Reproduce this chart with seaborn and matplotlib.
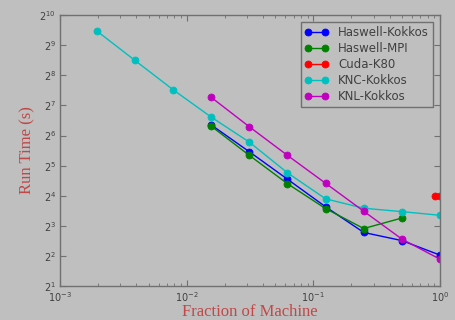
import matplotlib
matplotlib.use("Agg")
import matplotlib.pyplot as plt
import seaborn as sns
import pandas as pd
from matplotlib.ticker import LogFormatterSciNotation, LogLocator

sns.set_style("ticks")

frac_knc = [1/512, 1/256, 1/128, 1/64, 1/32, 1/16, 1/8, 1/4, 1/2, 1.0]
time_knc = [709, 360, 183.5, 97.7, 54.9, 27.1, 14.9, 12.0, 11.1, 10.2]

frac_hk = [1/64, 1/32, 1/16, 1/8, 1/4, 1/2, 1.0]
time_hk = [81.6, 44.0, 23.4, 12.4, 6.87, 5.70, 4.08]

frac_mpi = [1/64, 1/32, 1/16, 1/8, 1/4, 1/2]
time_mpi = [79.3, 40.5, 21.1, 11.9, 7.52, 9.58]

frac_cuda = [0.91, 1.0]
time_cuda = [15.9, 15.9]

frac_knl = [1/64, 1/32, 1/16, 1/8, 1/4, 1/2, 1.0]
time_knl = [154, 78.2, 40.5, 21.3, 11.2, 5.90, 3.71]

series = [
    ("Haswell-Kokkos", frac_hk, time_hk, (0, 0, 1)),
    ("Haswell-MPI", frac_mpi, time_mpi, (0, 0.5, 0)),
    ("Cuda-K80", frac_cuda, time_cuda, (1, 0, 0)),
    ("KNC-Kokkos", frac_knc, time_knc, (0, 0.75, 0.75)),
    ("KNL-Kokkos", frac_knl, time_knl, (0.75, 0, 0.75)),
]

bg = "#bfbfbf"
fig = plt.figure(figsize=(4.55, 3.2), dpi=100, facecolor=bg)
ax = fig.add_axes([0.132, 0.106, 0.835, 0.847], facecolor=bg)

names = []
for name, xs, ys, col in series:
    df = pd.DataFrame({"frac": xs, "time": ys})
    sns.lineplot(data=df, x="frac", y="time", ax=ax, color=col,
                 marker="o", markersize=5, linewidth=1.0,
                 markeredgecolor=col, markeredgewidth=0.6, estimator=None, sort=False)
    names.append(name)

ax.set_xscale("log")
ax.set_yscale("log", base=2)
ax.set_xlim(1e-3, 1)
ax.set_ylim(2, 1024)
ax.yaxis.set_major_locator(LogLocator(base=2, numticks=20))
ax.yaxis.set_major_formatter(LogFormatterSciNotation(base=2))
ax.yaxis.set_minor_locator(plt.NullLocator())

for s in ax.spines.values():
    s.set_color("#707070")
    s.set_linewidth(1.0)
ax.tick_params(which="both", direction="in", top=True, right=True, colors="#707070",
               labelcolor="#404040", labelsize=7, pad=3)
ax.tick_params(which="major", length=4)
ax.tick_params(which="minor", length=2)

lab = dict(family="Liberation Serif", color="#c04848", fontsize=12)
ax.set_xlabel("Fraction of Machine", labelpad=0, **lab)
ax.set_ylabel("Run Time (s)", labelpad=3, **lab)

leg = ax.legend(ax.lines, names, loc="upper right", numpoints=2, fontsize=8.5,
                frameon=True, fancybox=False, handlelength=2.0, borderaxespad=0.6,
                labelspacing=0.25, borderpad=0.35)
leg.get_frame().set_facecolor(bg)
leg.get_frame().set_edgecolor("#707070")
leg.get_frame().set_alpha(1)
for t in leg.get_texts():
    t.set_color("#404040")

fig.savefig("out.png", dpi=100, facecolor=bg)
